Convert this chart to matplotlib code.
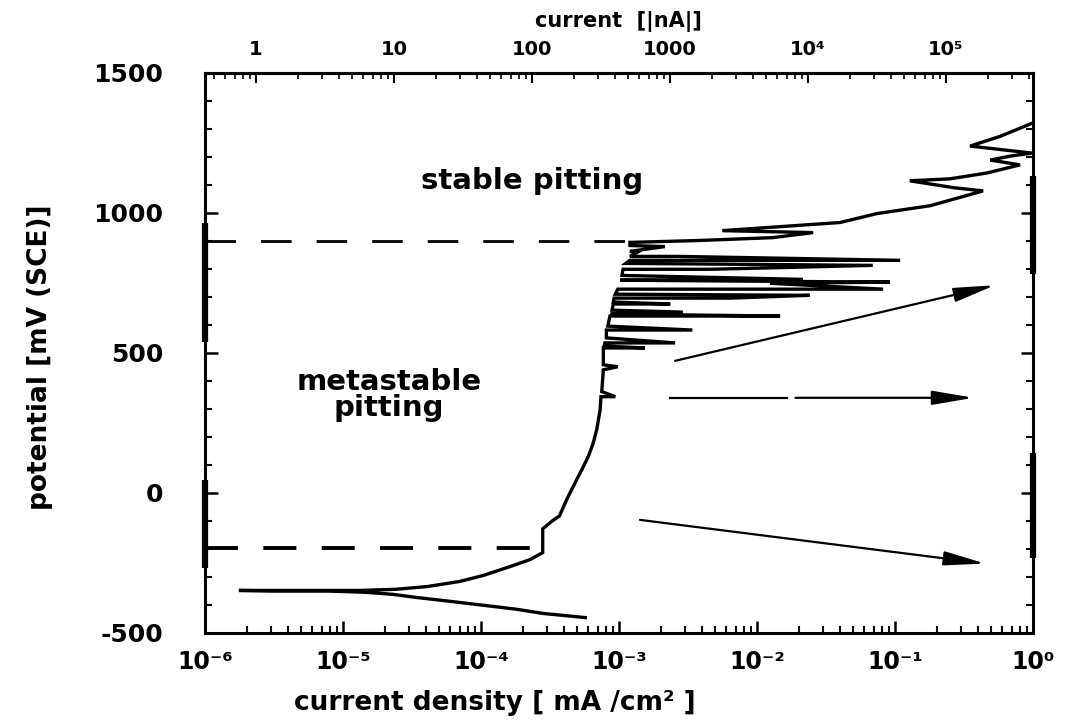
import matplotlib
matplotlib.use("Agg")
import matplotlib.pyplot as plt
from matplotlib.ticker import FixedLocator, MultipleLocator, LogLocator, NullFormatter

# ---------------- data ----------------
current_density = [  # mA/cm^2
    5.7e-4, 2.8e-4, 1.8e-4, 1.0e-4, 6.0e-5, 3.4e-5, 2.3e-5, 1.5e-5, 8.0e-6, 3.1e-6,
    1.76e-6, 4.9e-6, 1.33e-5, 2.4e-5, 4.1e-5, 7.0e-5, 1.03e-4, 1.62e-4, 2.26e-4, 2.8e-4,
    2.8e-4, 3.3e-4, 3.7e-4, 4.2e-4, 4.8e-4, 5.4e-4, 6.0e-4, 6.5e-4, 6.9e-4, 7.3e-4,
    7.4e-4, 9.4e-4, 7.5e-4, 7.7e-4, 9.8e-4, 7.7e-4, 7.7e-4, 1.54e-3, 7.8e-4, 7.9e-4,
    2.55e-3, 8.1e-4, 8.1e-4, 3.4e-3, 8.3e-4, 8.6e-4, 1.47e-2, 8.7e-4, 2.9e-3, 8.9e-4,
    9.1e-4, 2.35e-3, 9.1e-4, 9.2e-4, 6.4e-3, 2.4e-2, 9.4e-4, 9.8e-4, 8.2e-2, 1.24e-2,
    9.2e-2, 1.02e-3, 2.15e-2, 1.05e-3, 1.07e-3, 4.6e-3, 6.9e-2, 1.12e-3, 1.2e-3, 0.109,
    2.7e-3, 1.2e-3, 1.35e-3, 1.2e-3, 2.15e-3, 1.2e-3, 1.2e-3, 3.9e-3, 1.3e-2, 2.55e-2,
    5.6e-3, 4.0e-2, 7.4e-2, 0.18, 0.435, 0.27, 0.128, 0.25, 0.465, 0.805,
    0.49, 0.68, 0.98, 0.35, 0.58, 0.99,
]
potential = [  # mV (SCE)
    -445, -430, -415, -400, -387, -373, -362, -355, -350, -350,
    -348, -348, -348, -344, -334, -316, -295, -263, -238, -213,
    -128, -99, -82, -21, 36, 85, 131, 178, 227, 298,
    344, 344, 362, 440, 451, 458, 518, 518, 525, 536,
    536, 554, 582, 582, 596, 632, 632, 639, 646, 653,
    675, 675, 682, 696, 696, 706, 710, 728, 728, 749,
    753, 760, 763, 777, 799, 799, 813, 820, 831, 831,
    845, 845, 859, 863, 880, 884, 895, 902, 912, 930,
    937, 966, 998, 1026, 1079, 1090, 1115, 1122, 1143, 1172,
    1189, 1203, 1214, 1239, 1274, 1321,
]

# threshold potentials (dashed lines)
stable_pitting_potential = 900
metastable_start_potential = -195
stable_line_end = 1.1e-3
metastable_line_end = 2.8e-4

# arrows: (start j, start E, end j, end E)
arrow_up = (2.55e-3, 472, 0.53, 742)
arrow_flat_a = (2.35e-3, 340, 1.65e-2, 340)
arrow_flat_b = (1.9e-2, 340, 0.37, 340)
arrow_down = (1.42e-3, -96, 0.45, -252)

# heavy segments of the frame seen in the picture (potential ranges, mV)
left_frame_bars = [(541, 966), (-267, 48)]
right_frame_bars = [(781, 1132), (-231, 142)]

# conversion current density -> current (nA) for the top axis
nA_per_mA_cm2 = 4.27e5

bottom_ticks = [1e-6, 1e-5, 1e-4, 1e-3, 1e-2, 1e-1, 1e0]
bottom_labels = ["10⁻⁶", "10⁻⁵", "10⁻⁴", "10⁻³", "10⁻²", "10⁻¹", "10⁰"]
top_ticks = [1, 10, 100, 1000, 1e4, 1e5]
top_labels = ["1", "10", "100", "1000", "10⁴", "10⁵"]
y_ticks = [-500, 0, 500, 1000, 1500]
y_labels = ["-500", "0", "500", "1000", "1500"]

# ---------------- figure ----------------
plt.rcParams["font.family"] = ["DejaVu Sans"]
plt.rcParams["font.weight"] = "bold"

fig = plt.figure(figsize=(10.7, 7.26), dpi=100)
ax = fig.add_axes([205 / 1070, 93 / 726, 828 / 1070, 560 / 726])

ax.set_xscale("log")
ax.set_xlim(1e-6, 1.0)
ax.set_ylim(-500, 1500)

ax.plot(current_density, potential, color="black", lw=2.4, solid_joinstyle="miter")

ax.plot([1e-6, stable_line_end], [stable_pitting_potential] * 2, color="black",
        lw=2.0, dashes=(11, 9))
ax.plot([1e-6, metastable_line_end], [metastable_start_potential] * 2, color="black",
        lw=2.8, dashes=(8.5, 6.5))

head = "-|>,head_length=1.4,head_width=0.24"
for (x0, y0, x1, y1) in (arrow_up, arrow_flat_b, arrow_down):
    ax.annotate("", xy=(x1, y1), xytext=(x0, y0),
                arrowprops=dict(arrowstyle=head, lw=1.6, color="black",
                                shrinkA=0, shrinkB=0, mutation_scale=18))
ax.plot([arrow_flat_a[0], arrow_flat_a[2]], [arrow_flat_a[1], arrow_flat_a[3]],
        color="black", lw=1.6)

for (e0, e1) in left_frame_bars:
    ax.plot([1e-6, 1e-6], [e0, e1], color="black", lw=4.5, clip_on=False,
            solid_capstyle="butt")
for (e0, e1) in right_frame_bars:
    ax.plot([1.0, 1.0], [e0, e1], color="black", lw=4.5, clip_on=False,
            solid_capstyle="butt")

# texts
ax.text(0.395, 0.808, "stable pitting", transform=ax.transAxes, ha="center",
        va="center", fontsize=21, fontweight="bold")
ax.text(0.222, 0.425, "metastable\npitting", transform=ax.transAxes, ha="center",
        va="center", fontsize=21, fontweight="bold", linespacing=0.95)

# axes styling
for sp in ax.spines.values():
    sp.set_linewidth(2.2)

ax.xaxis.set_major_locator(FixedLocator(bottom_ticks))
ax.set_xticklabels(bottom_labels)
ax.xaxis.set_minor_locator(LogLocator(base=10, subs=range(2, 10), numticks=20))
ax.xaxis.set_minor_formatter(NullFormatter())
ax.yaxis.set_major_locator(FixedLocator(y_ticks))
ax.set_yticklabels(y_labels)
ax.yaxis.set_minor_locator(MultipleLocator(100))

ax.tick_params(axis="x", which="both", direction="in", top=False, bottom=True)
ax.tick_params(axis="y", which="both", direction="in", left=True, right=True)
ax.tick_params(which="major", length=9, width=1.8)
ax.tick_params(which="minor", length=5, width=1.5)
ax.tick_params(axis="x", which="major", labelsize=17, pad=12)
ax.tick_params(axis="y", which="major", labelsize=18, pad=30)

secax = ax.secondary_xaxis("top", functions=(lambda j: j * nA_per_mA_cm2,
                                             lambda i: i / nA_per_mA_cm2))
secax.set_xticks(top_ticks)
secax.set_xticklabels(top_labels)
secax.xaxis.set_minor_locator(LogLocator(base=10, subs=range(2, 10), numticks=20))
secax.xaxis.set_minor_formatter(NullFormatter())
secax.tick_params(which="both", direction="in")
secax.tick_params(which="major", length=7, width=1.5, labelsize=14, pad=10)
secax.tick_params(which="minor", length=4, width=1.2)
secax.spines["top"].set_linewidth(2.2)

fig.text(495 / 1070, 1 - 703 / 726, "current density [ mA /cm² ]", ha="center",
         va="center", fontsize=19, fontweight="bold")
fig.text(618 / 1070, 1 - 22 / 726, "current  [|nA|]", ha="center", va="center",
         fontsize=15, fontweight="bold")
fig.text(40 / 1070, 1 - 357 / 726, "potential [mV (SCE)]", ha="center", va="center",
         rotation=90, fontsize=19, fontweight="bold",
         family=["Liberation Sans Narrow", "DejaVu Sans Condensed", "DejaVu Sans"])

fig.savefig("out.png", dpi=100, facecolor="white")
